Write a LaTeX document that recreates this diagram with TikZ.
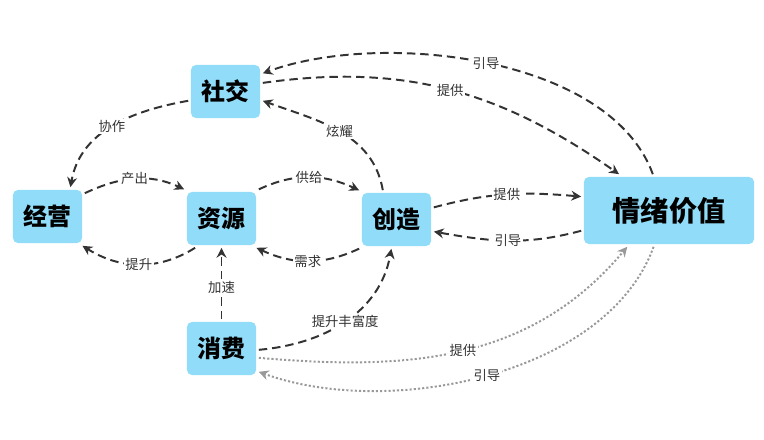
\documentclass[tikz,border=0pt]{standalone}
\usepackage{fontspec}
\setmainfont{Noto Sans CJK SC}
\usetikzlibrary{arrows.meta}
\definecolor{boxBlue}{HTML}{91DDF9}
\definecolor{lineDark}{HTML}{333333}
\definecolor{lineGray}{HTML}{999999}

\begin{document}
\begin{tikzpicture}[
  x=0.025cm,y=-0.025cm,
  box/.style={fill=boxBlue,rounded corners=3.5pt,minimum width=1.725cm,minimum height=1.325cm,inner sep=1pt,outer sep=2pt,font=\fontsize{17}{17}\selectfont\bfseries},
  bigbox/.style={box,minimum width=4.25cm,minimum height=1.675cm,font=\fontsize{20}{20}\selectfont\bfseries},
  lbl/.style={fill=white,inner sep=1pt,text=lineDark,font=\fontsize{9.5}{10}\selectfont},
  flow/.style={-{Stealth[length=7pt,width=7pt]},line width=1.4pt,draw=lineDark,dash pattern=on 6pt off 3.5pt},
  hint/.style={-{Stealth[length=7pt,width=7pt]},line width=1.4pt,draw=lineGray,dash pattern=on 1.5pt off 1.5pt}
]
\useasboundingbox (0,0) rectangle (764,440);
\node[box] (shejiao) at (225.5,91.5) {社交};
\node[box] (jingying) at (47.5,216.5) {经营};
\node[box] (ziyuan) at (221.5,218.5) {资源};
\node[box] (chuangzao) at (396.5,219.5) {创造};
\node[bigbox] (qingxu) at (669,210.5) {情绪价值};
\node[box] (xiaofei) at (221.5,348.5) {消费};
% solid flows
\draw[flow] (shejiao.194) to[out=190,in=80] node[lbl]{协作} (jingying.52);
\draw[flow] (jingying.32) to[out=25,in=155] node[lbl]{产出} (ziyuan.142);
\draw[flow] (ziyuan.228) to[out=212,in=-32] node[lbl]{提升} (jingying.-40);
\draw[flow] (ziyuan.38) to[out=25,in=155] node[lbl]{供给} (chuangzao.142);
\draw[flow] (chuangzao.218) to[out=205,in=-25] node[lbl]{需求} (ziyuan.-40);
\draw[flow] (chuangzao.115) to[out=100,in=-20] node[lbl]{炫耀} (shejiao.-14);
\draw[flow] (shejiao.13) to[out=8,in=145] node[lbl]{提供} (qingxu.144);
\draw[flow] (qingxu.114) to[out=110,in=20,looseness=0.8] node[lbl]{引导} (shejiao.26);
\draw[flow] (chuangzao.18) to[out=15,in=175] node[lbl]{提供} (qingxu.171);
\draw[flow] (qingxu.193) to[out=195,in=-10] node[lbl]{引导} (chuangzao.-18);
\draw[flow] (xiaofei.north) -- node[lbl,pos=0.45]{加速} (ziyuan.south);
\draw[flow] (xiaofei.-2) to[out=5,in=-100] node[lbl]{提升丰富度} (chuangzao.260);
% dotted hints
\draw[hint] (xiaofei.-14) to[out=-5,in=230] node[lbl]{提供} (qingxu.221);
\draw[hint] (qingxu.247) to[out=250,in=-20,looseness=0.85] node[lbl]{引导} (xiaofei.-32);
\end{tikzpicture}
\end{document}
